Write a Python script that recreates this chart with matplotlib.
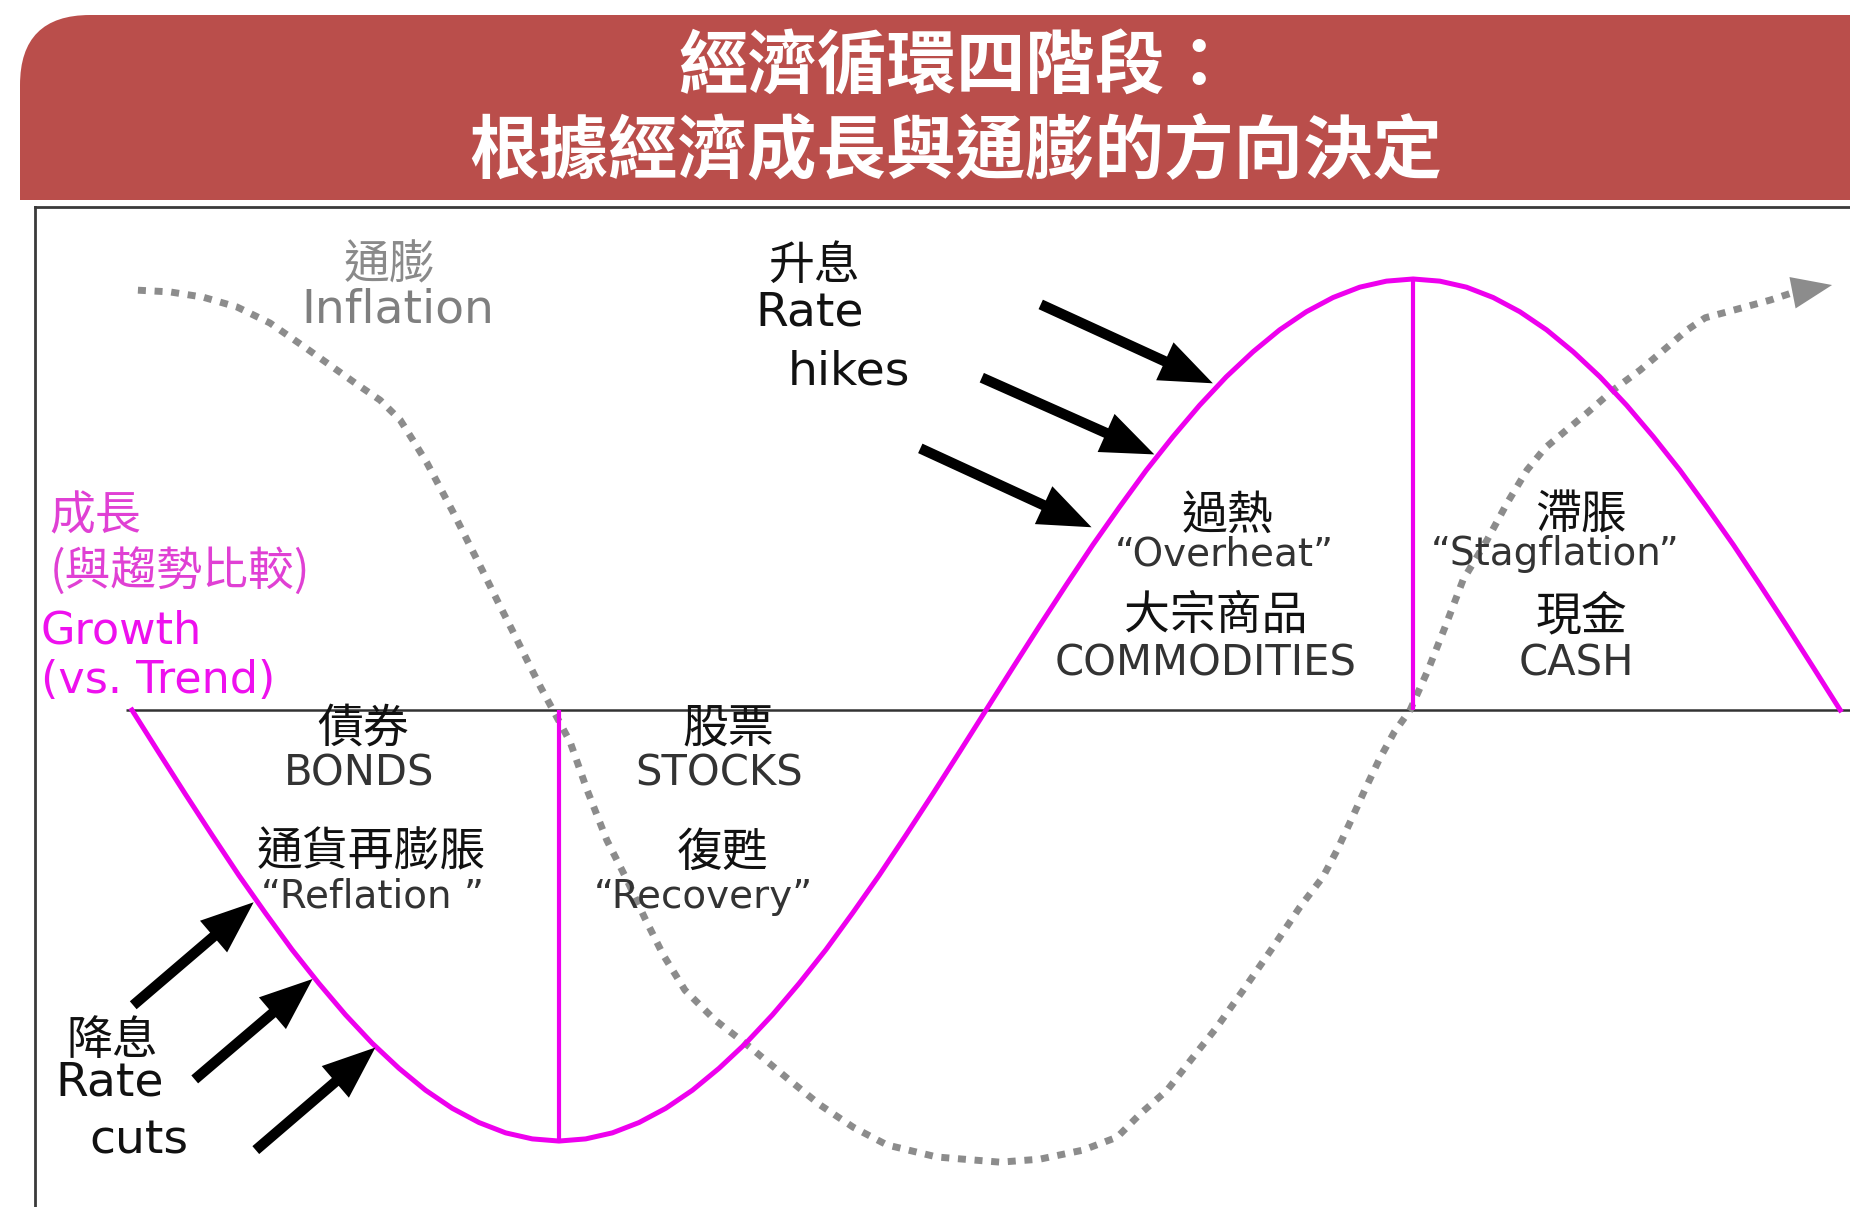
import matplotlib
matplotlib.use('Agg')
import matplotlib.pyplot as plt
from matplotlib.patches import FancyBboxPatch, FancyArrowPatch

# growth vs trend (x = cycle phase, 1 unit per stage)
growth_x = [0, 0.0625, 0.125, 0.1875, 0.25, 0.3125, 0.375, 0.4375, 0.5, 0.5625, 0.625, 0.6875,
            0.75, 0.8125, 0.875, 0.9375, 1, 1.0625, 1.125, 1.1875, 1.25, 1.3125, 1.375, 1.4375,
            1.5, 1.5625, 1.625, 1.6875, 1.75, 1.8125, 1.875, 1.9375, 2, 2.0625, 2.125, 2.1875,
            2.25, 2.3125, 2.375, 2.4375, 2.5, 2.5625, 2.625, 2.6875, 2.75, 2.8125, 2.875, 2.9375,
            3, 3.0625, 3.125, 3.1875, 3.25, 3.3125, 3.375, 3.4375, 3.5, 3.5625, 3.625, 3.6875,
            3.75, 3.8125, 3.875, 3.9375, 4]
growth_y = [0, -0.098, -0.195, -0.290, -0.383, -0.471, -0.556, -0.634, -0.707, -0.773, -0.831, -0.882,
            -0.924, -0.957, -0.981, -0.995, -1.0, -0.995, -0.981, -0.957, -0.924, -0.882, -0.831, -0.773,
            -0.707, -0.634, -0.556, -0.471, -0.383, -0.290, -0.195, -0.098, 0, 0.098, 0.195, 0.290,
            0.383, 0.471, 0.556, 0.634, 0.707, 0.773, 0.831, 0.882, 0.924, 0.957, 0.981, 0.995,
            1.0, 0.995, 0.981, 0.957, 0.924, 0.882, 0.831, 0.773, 0.707, 0.634, 0.556, 0.471,
            0.383, 0.290, 0.195, 0.098, 0]

# inflation (last point = arrow tip)
inflation_x = [0.014, 0.089, 0.166, 0.246, 0.323, 0.400, 0.464, 0.522, 0.581, 0.628,
               0.658, 0.691, 0.721, 0.752, 0.785, 0.820, 0.855, 0.890, 0.925, 0.958,
               0.986, 1.026, 1.066, 1.112, 1.159, 1.201, 1.244, 1.295, 1.365, 1.447,
               1.534, 1.611, 1.689, 1.768, 1.885, 2.033, 2.126, 2.227, 2.307, 2.361,
               2.424, 2.485, 2.541, 2.602, 2.672, 2.735, 2.789, 2.822, 2.855, 2.888,
               2.921, 2.956, 2.993, 3.035, 3.075, 3.117, 3.173, 3.220, 3.267, 3.309,
               3.356, 3.407, 3.468, 3.532, 3.595, 3.642, 3.684, 3.759, 3.836, 3.888,
               3.981]
inflation_y = [0.974, 0.970, 0.958, 0.935, 0.898, 0.845, 0.800, 0.759, 0.719, 0.673,
               0.626, 0.573, 0.517, 0.459, 0.394, 0.325, 0.255, 0.186, 0.116, 0.051,
               0.000, -0.074, -0.186, -0.302, -0.394, -0.483, -0.568, -0.650, -0.719, -0.782,
               -0.854, -0.916, -0.968, -1.009, -1.037, -1.049, -1.042, -1.021, -0.991, -0.937,
               -0.882, -0.805, -0.735, -0.650, -0.550, -0.457, -0.387, -0.325, -0.255, -0.183,
               -0.114, -0.051, 0.000, 0.093, 0.193, 0.302, 0.394, 0.480, 0.557, 0.608,
               0.647, 0.689, 0.742, 0.789, 0.842, 0.882, 0.910, 0.930, 0.951, 0.968,
               0.986]

# stage separators: trough and peak of growth
sep_x = [1, 3]
sep_y = [-1.0, 1.0]

# rate arrows (start -> tip on the growth curve)
hike_start = [(2.128, 0.941), (1.990, 0.771), (1.846, 0.607)]
hike_tip = [(2.531, 0.758), (2.394, 0.593), (2.247, 0.424)]
cut_start = [(0.003, -0.685), (0.147, -0.857), (0.290, -1.021)]
cut_tip = [(0.285, -0.446), (0.423, -0.624), (0.570, -0.783)]

title_lines = ['經濟循環四階段：', '根據經濟成長與通膨的方向決定']

# stage labels: (x, y, text, kind)
stage_labels = [
    (2.565, 0.451, '過熱', 'cjk'), (2.559, 0.361, '“Overheat”', 'en'),
    (2.537, 0.218, '大宗商品', 'cjk'), (2.515, 0.109, 'COMMODITIES', 'asset'),
    (3.394, 0.451, '滯脹', 'cjk'), (3.333, 0.361, '“Stagflation”', 'en'),
    (3.394, 0.218, '現金', 'cjk'), (3.382, 0.109, 'CASH', 'asset'),
    (0.542, -0.042, '債券', 'cjk'), (0.531, -0.148, 'BONDS', 'asset'),
    (0.561, -0.331, '通貨再膨脹', 'cjk'), (0.564, -0.433, '“Reflation ”', 'en'),
    (1.396, -0.042, '股票', 'cjk'), (1.376, -0.148, 'STOCKS', 'asset'),
    (1.382, -0.331, '復甦', 'cjk'), (1.338, -0.433, '“Recovery”', 'en'),
]

CJK = ['Noto Sans CJK TC', 'DejaVu Sans']
EN = ['DejaVu Sans', 'Noto Sans CJK TC']
MAGENTA = '#EE00EE'

fig = plt.figure(figsize=(18.5, 12.07), dpi=100)

# header band
hax = fig.add_axes([0, 1 - 200 / 1207, 1, 200 / 1207])
hax.set_xlim(0, 1850)
hax.set_ylim(200, 0)
hax.axis('off')
hax.add_patch(FancyBboxPatch((20, 15), 1900, 400, boxstyle='round,pad=0,rounding_size=70',
                             fc='#BA4E4B', ec='none'))
hax.text(956, 67, title_lines[0], ha='center', va='center', color='white',
         fontsize=50, fontweight='bold', family=CJK)
hax.text(956, 152, title_lines[1], ha='center', va='center', color='white',
         fontsize=50, fontweight='bold', family=CJK)

# main diagram
ax = fig.add_axes([35 / 1850, 0, 1 - 35 / 1850, 1 - 207 / 1207])
ax.set_xlim(-0.227, 4.023)
ax.set_ylim(-1.153, 1.167)
ax.set_xticks([])
ax.set_yticks([])
for s in ['right', 'bottom']:
    ax.spines[s].set_visible(False)
for s in ['left', 'top']:
    ax.spines[s].set_color('#3a3a3a')
    ax.spines[s].set_linewidth(2)

ax.hlines(0, growth_x[0] - 0.015, growth_x[-1] + 0.05, color='#333333', lw=1.8, zorder=2)

ax.plot(inflation_x[:-1], inflation_y[:-1], color='#8c8c8c', lw=5,
        linestyle=(0, (1.15, 1.25)), dash_capstyle='butt', zorder=3)
ax.add_patch(FancyArrowPatch((inflation_x[-2], inflation_y[-2]), (inflation_x[-1], inflation_y[-1]),
                             arrowstyle='simple,head_length=2.9,head_width=2.3,tail_width=0.01',
                             mutation_scale=10, color='#8c8c8c', lw=0, shrinkA=0, shrinkB=0, zorder=3))

ax.plot(growth_x, growth_y, color=MAGENTA, lw=3.6, solid_joinstyle='round', zorder=4)
ax.vlines(sep_x, [min(0, v) for v in sep_y], [max(0, v) for v in sep_y], color=MAGENTA, lw=3, zorder=4)

for (x0, y0), (x1, y1) in zip(hike_start + cut_start, hike_tip + cut_tip):
    ax.add_patch(FancyArrowPatch((x0, y0), (x1, y1),
                                 arrowstyle='simple,head_length=3.8,head_width=3.0,tail_width=0.75',
                                 mutation_scale=10, color='black', lw=0, shrinkA=0, shrinkB=0, zorder=5))

# side labels
ax.text(0.603, 1.031, '通膨', ha='center', va='center', fontsize=33, color='#8a8a8a', family=CJK)
ax.text(0.622, 0.928, 'Inflation', ha='center', va='center', fontsize=34, color='#7f7f7f', family=EN)
ax.text(1.598, 1.031, '升息', ha='center', va='center', fontsize=33, color='#111111', family=CJK)
ax.text(1.586, 0.922, 'Rate', ha='center', va='center', fontsize=34, color='#111111', family=EN)
ax.text(1.680, 0.785, 'hikes', ha='center', va='center', fontsize=34, color='#111111', family=EN)
ax.text(-0.047, -0.767, '降息', ha='center', va='center', fontsize=33, color='#111111', family=CJK)
ax.text(-0.052, -0.866, 'Rate', ha='center', va='center', fontsize=34, color='#111111', family=EN)
ax.text(0.017, -1.000, 'cuts', ha='center', va='center', fontsize=34, color='#111111', family=EN)

ax.text(-0.193, 0.451, '成長', ha='left', va='center', fontsize=33, color='#E040D4', family=CJK)
ax.text(-0.193, 0.320, '(與趨勢比較)', ha='left', va='center', fontsize=33, color='#E040D4', family=CJK)
ax.text(-0.213, 0.183, 'Growth', ha='left', va='center', fontsize=32, color='#EE10EE', family=EN)
ax.text(-0.213, 0.068, '(vs. Trend)', ha='left', va='center', fontsize=32, color='#EE10EE', family=EN)

styles = {'cjk': dict(fontsize=33, color='#111111', family=CJK),
          'en': dict(fontsize=28, color='#333333', family=EN),
          'asset': dict(fontsize=30, color='#333333', family=EN)}
for x, y, t, kind in stage_labels:
    ax.text(x, y, t, ha='center', va='center', zorder=6, **styles[kind])

fig.savefig('out.png', dpi=100)
plt.close(fig)
